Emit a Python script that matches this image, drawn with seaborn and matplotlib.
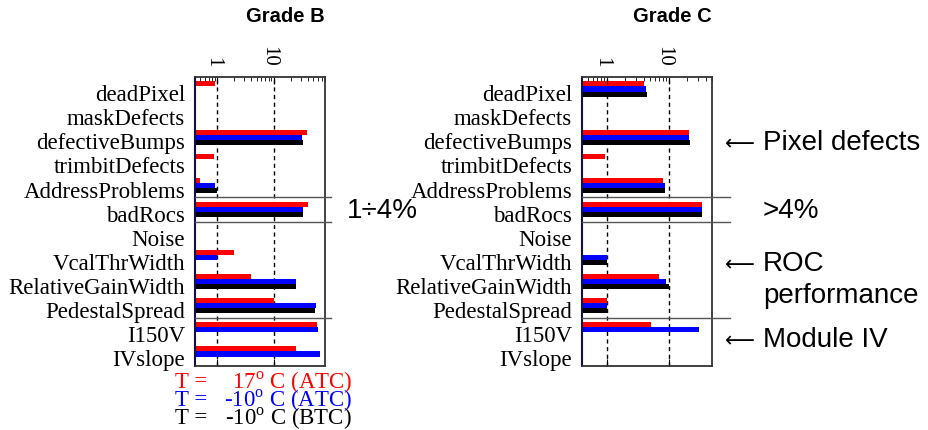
import numpy as np
import pandas as pd
import matplotlib
matplotlib.use('Agg')
import matplotlib.pyplot as plt
import matplotlib.transforms as mtransforms
from matplotlib.ticker import NullFormatter
import seaborn as sns

# Dados
categories = ['deadPixel', 'maskDefects', 'defectiveBumps', 'trimbitDefects',
              'AddressProblems', 'badRocs', 'Noise', 'VcalThrWidth',
              'RelativeGainWidth', 'PedestalSpread', 'I150V', 'IVslope']
conditions = ['17C_ATC', 'm10C_ATC', 'm10C_BTC']
colors = ['#ff0000', '#0000ff', '#000000']
nan = np.nan

# Grade B (%)
gradeB_17_atc = [0.9, nan, 38, 0.86, 0.5, 40, nan, 2.0, 4.0, 10.2, 57, 25]
gradeB_m10_atc = [nan, nan, 31.5, nan, 0.92, 32, nan, 1.0, 25, 55, 61, 65]
gradeB_m10_btc = [nan, nan, 32, nan, 1.0, 33, nan, nan, 25, 53, nan, nan]

# Grade C (%)
gradeC_17_atc = [4.0, nan, 21, 0.93, 8.2, 34, nan, nan, 7.0, 1.0, 5.1, nan]
gradeC_m10_atc = [4.3, nan, 21, nan, 8.8, 34, nan, 1.0, 9.1, 1.0, 30.5, nan]
gradeC_m10_btc = [4.4, nan, 22, nan, 8.7, 35, nan, 1.0, 10.2, 1.0, nan, nan]

tick_values = [1, 10]
tick_labels = ['1', '10']
legend_values = ['17$^{\\rm o}$ C (ATC)', '-10$^{\\rm o}$ C (ATC)', '-10$^{\\rm o}$ C (BTC)']


def make_df(series):
    rows = []
    for cond, vals in zip(conditions, series):
        for cat, v in zip(categories, vals):
            rows.append({'categoria': cat, 'condicao': cond, 'valor': v})
    return pd.DataFrame(rows).dropna()


dfB = make_df([gradeB_17_atc, gradeB_m10_atc, gradeB_m10_btc])
dfC = make_df([gradeC_17_atc, gradeC_m10_atc, gradeC_m10_btc])

plt.rcParams['mathtext.fontset'] = 'custom'
plt.rcParams['mathtext.rm'] = 'Liberation Serif'
serif = ['Liberation Serif', 'DejaVu Serif']
sans = ['Liberation Sans', 'DejaVu Sans']

fig = plt.figure(figsize=(9.29, 4.31), dpi=100)
W, H = 929, 431


def add_panel(x0_px, df, xlim, ext):
    ax = fig.add_axes([x0_px / W, 1 - 367 / H, 130 / W, 289 / H])
    sns.barplot(data=df, y='categoria', x='valor', hue='condicao',
                order=categories, hue_order=conditions,
                palette=dict(zip(conditions, colors)), saturation=1,
                errorbar=None, width=0.64, orient='h',
                legend=False, linewidth=0, ax=ax)
    ax.set_xscale('log')
    ax.set_xlim(*xlim)
    ax.set_ylim(len(categories) - 0.5, -0.5)
    ax.set_xlabel('')
    ax.set_ylabel('')
    for v in tick_values:
        ax.axvline(v, color='black', lw=1, ls=(0, (3, 2.5)), zorder=0)
    ax.set_xticks(tick_values)
    ax.set_xticklabels(['', ''])
    ax.xaxis.set_minor_formatter(NullFormatter())
    ax.tick_params(axis='x', which='major', direction='in', top=True, bottom=True,
                   labeltop=False, labelbottom=False, length=5)
    ax.tick_params(axis='x', which='minor', direction='in', top=True, bottom=False,
                   length=3)
    # rótulos do topo, rodados
    tt = mtransforms.offset_copy(ax.get_xaxis_transform(), fig=fig, x=-5, y=11, units='dots')
    for v, lab in zip(tick_values, tick_labels):
        ax.text(v, 1, lab, rotation=270, ha='center', va='bottom', transform=tt,
                family=serif, fontsize=15)
    # rótulos das categorias um pouco abaixo do centro da linha
    ax.set_yticks(np.arange(len(categories)) + 0.13)
    ax.set_yticklabels(categories, family=serif, fontsize=16.5)
    ax.tick_params(axis='y', length=0, pad=7)
    for side in ['top', 'bottom', 'right']:
        ax.spines[side].set_color('#333333')
        ax.spines[side].set_linewidth(1.3)
    ax.spines['left'].set_color('#10104a')
    ax.spines['left'].set_linewidth(1.5)
    # separadores entre grupos
    trans = ax.get_yaxis_transform()
    for y in [4.5, 5.5, 9.5]:
        ax.plot([0, 1 + ext], [y, y], color='#555555', lw=1, transform=trans,
                clip_on=False, zorder=3)
    return ax


axB = add_panel(195, dfB, (0.4, 80), 0.05)
axC = add_panel(582, dfC, (0.4, 50), 0.14)

fig.text(285 / W, 1 - 17 / H, 'Grade B', ha='center', va='center',
         family=sans, fontweight='bold', fontsize=14.5)
fig.text(672 / W, 1 - 17 / H, 'Grade C', ha='center', va='center',
         family=sans, fontweight='bold', fontsize=14.5)

# anotações à direita
fig.text(347 / W, 1 - 211 / H, '1÷4%', ha='left', va='center', family=sans, fontsize=20)
fig.text(763 / W, 1 - 211 / H, '>4%', ha='left', va='center', family=sans, fontsize=20)
for y, txt in [(143, 'Pixel defects'), (264, 'ROC'), (340, 'Module IV')]:
    fig.text(725 / W, 1 - (y + 1) / H, '\u27f5', ha='left', va='center',
             family=['DejaVu Sans'], fontsize=15)
    fig.text(763 / W, 1 - y / H, txt, ha='left', va='center', family=sans, fontsize=20)
fig.text(763 / W, 1 - 296 / H, 'performance', ha='left', va='center', family=sans, fontsize=20)

# legenda das temperaturas
for y, c, v in zip([383, 401, 419], colors, legend_values):
    fig.text(175 / W, 1 - y / H, 'T =', ha='left', va='center', color=c,
             family=serif, fontsize=16.5)
    fig.text(352 / W, 1 - y / H, v, ha='right', va='center', color=c,
             family=serif, fontsize=16.5)

fig.savefig('out.png', dpi=100)
